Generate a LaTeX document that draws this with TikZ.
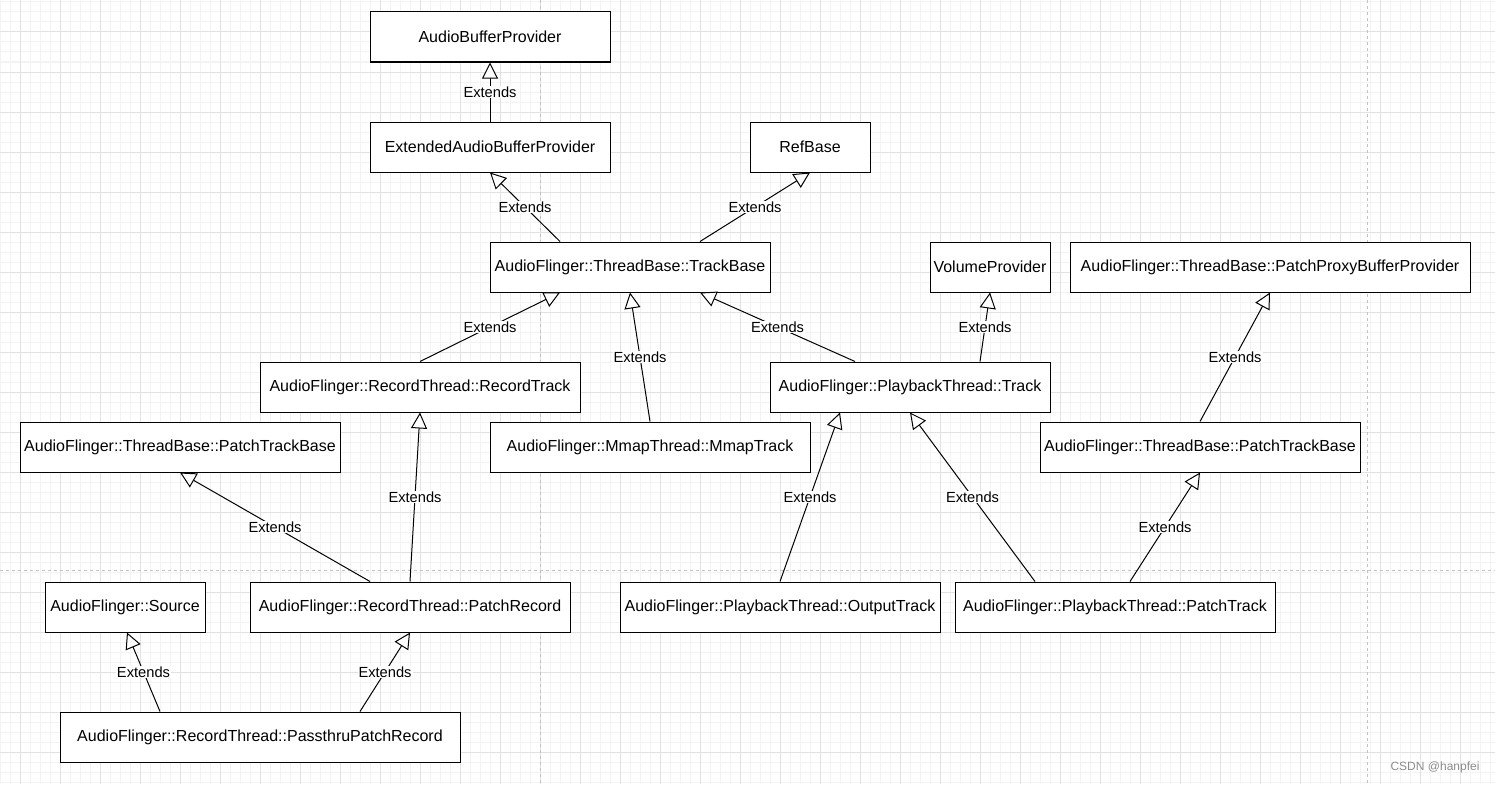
\documentclass[tikz,border=0pt]{standalone}
\usepackage{fontspec}
\setmainfont{Liberation Sans}
\usetikzlibrary{arrows.meta}
\definecolor{gridminor}{HTML}{F3F3F3}
\definecolor{gridmajor}{HTML}{E2E2E2}
\definecolor{pagebreak}{HTML}{C2C2C2}
\definecolor{wmark}{HTML}{8C8C8C}
\tikzset{
  cls/.style={draw=black, line width=1pt, fill=white, minimum height=50pt, inner sep=0pt,
    font=\fontsize{16pt}{19pt}\selectfont},
  ext/.style={draw=black, line width=1pt,
    -{Triangle[length=16pt, width=16pt, fill=white, line width=1pt]}},
  lbl/.style={fill=white, inner sep=1pt, font=\fontsize{14.67pt}{17pt}\selectfont},
}
\begin{document}
\begin{tikzpicture}[x=1pt, y=-1pt]
\useasboundingbox (0,0) rectangle (1495,784);
\fill[white] (0,0) rectangle (1495,784);
% grid
\foreach \gx in {0,10,...,1490} \draw[gridminor, line width=1pt] (\gx,0) -- (\gx,784);
\foreach \gy in {2,12,...,782} \draw[gridminor, line width=1pt] (0,\gy) -- (1495,\gy);
\foreach \gx in {20,60,...,1460} \draw[gridmajor, line width=1pt] (\gx,0) -- (\gx,784);
\foreach \gy in {32,72,...,752} \draw[gridmajor, line width=1pt] (0,\gy) -- (1495,\gy);
% page breaks
\draw[pagebreak, line width=1pt, dash pattern=on 3pt off 3pt] (540.5,0) -- (540.5,784);
\draw[pagebreak, line width=1pt, dash pattern=on 3pt off 3pt] (1367.5,0) -- (1367.5,784);
\draw[pagebreak, line width=1pt, dash pattern=on 3pt off 3pt] (0,570.5) -- (1495,570.5);

% classes
\node[cls, minimum width=240pt] (abp)  at (490,37)  {AudioBufferProvider};
\node[cls, minimum width=240pt] (eabp) at (490,147) {ExtendedAudioBufferProvider};
\node[cls, minimum width=120pt] (rb)   at (810,147) {RefBase};
\node[cls, minimum width=280pt] (tb)   at (630,267) {AudioFlinger::ThreadBase::TrackBase};
\node[cls, minimum width=120pt] (vp)   at (990,267) {VolumeProvider};
\node[cls, minimum width=400pt] (ppbp) at (1270,267) {AudioFlinger::ThreadBase::PatchProxyBufferProvider};
\node[cls, minimum width=320pt] (rt)   at (420,387) {AudioFlinger::RecordThread::RecordTrack};
\node[cls, minimum width=280pt] (pt)   at (910,387) {AudioFlinger::PlaybackThread::Track};
\node[cls, minimum width=320pt] (ptbl) at (180,447) {AudioFlinger::ThreadBase::PatchTrackBase};
\node[cls, minimum width=320pt] (mt)   at (650,447) {AudioFlinger::MmapThread::MmapTrack};
\node[cls, minimum width=320pt] (ptbr) at (1200,447) {AudioFlinger::ThreadBase::PatchTrackBase};
\node[cls, minimum width=160pt] (src)  at (125,607) {AudioFlinger::Source};
\node[cls, minimum width=320pt] (pr)   at (410,607) {AudioFlinger::RecordThread::PatchRecord};
\node[cls, minimum width=320pt] (ot)   at (780,607) {AudioFlinger::PlaybackThread::OutputTrack};
\node[cls, minimum width=320pt] (ptk)  at (1115,607) {AudioFlinger::PlaybackThread::PatchTrack};
\node[cls, minimum width=400pt] (ppr)  at (260,737) {AudioFlinger::RecordThread::PassthruPatchRecord};

% extends relations
\draw[ext] (eabp.north) -- node[lbl] {Extends} (abp.south);
\draw[ext] ([xshift=-70pt]tb.north) -- node[lbl] {Extends} (eabp.south);
\draw[ext] ([xshift=70pt]tb.north) -- node[lbl] {Extends} (rb.south);
\draw[ext] (rt.north) -- node[lbl] {Extends} ([xshift=-70pt]tb.south);
\draw[ext] (mt.north) -- node[lbl] {Extends} (tb.south);
\draw[ext] ([xshift=-55pt]pt.north) -- node[lbl] {Extends} ([xshift=70pt]tb.south);
\draw[ext] ([xshift=70pt]pt.north) -- node[lbl] {Extends} (vp.south);
\draw[ext] (ptbr.north) -- node[lbl] {Extends} (ppbp.south);
\draw[ext] (pr.north) -- node[lbl] {Extends} (rt.south);
\draw[ext] ([xshift=-40pt]pr.north) -- node[lbl] {Extends} (ptbl.south);
\draw[ext] (ot.north) -- node[lbl] {Extends} ([xshift=-70pt]pt.south);
\draw[ext] ([xshift=-80pt]ptk.north) -- node[lbl] {Extends} (pt.south);
\draw[ext] ([xshift=15pt]ptk.north) -- node[lbl] {Extends} (ptbr.south);
\draw[ext] ([xshift=-100pt]ppr.north) -- node[lbl] {Extends} ([xshift=2pt]src.south);
\draw[ext] ([xshift=100pt]ppr.north) -- node[lbl] {Extends} (pr.south);

% watermark
\node[text=wmark, font=\fontsize{12pt}{14pt}\selectfont, inner sep=0pt] (wm) at (1435,767) {CSDN @hanpfei};
\end{tikzpicture}
\end{document}
